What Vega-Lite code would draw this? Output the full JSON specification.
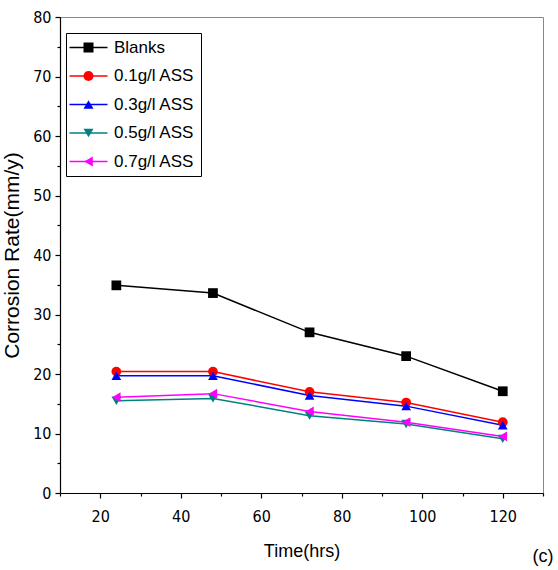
{
  "$schema": "https://vega.github.io/schema/vega-lite/v6.json",
  "width": 483,
  "height": 476,
  "autosize": {"type": "none"},
  "padding": {"left": 60, "top": 17, "right": 15, "bottom": 77},
  "background": "white",
  "config": {
    "view": {"stroke": "#888888", "strokeWidth": 1},
    "axis": {
      "grid": false,
      "domainColor": "black",
      "domainWidth": 1.2,
      "tickColor": "black",
      "tickWidth": 1.2,
      "labelColor": "black",
      "titleColor": "black",
      "labelFont": "Liberation Sans Narrow, DejaVu Sans Condensed, Liberation Sans",
      "labelFontSize": 16,
      "titleFont": "Liberation Sans",
      "titleFontWeight": "normal",
      "labelOverlap": false
    },
    "legend": {
      "labelFont": "Liberation Sans",
      "labelFontSize": 17,
      "labelColor": "black"
    }
  },
  "title": {
    "text": "(c)",
    "orient": "bottom",
    "anchor": "end",
    "font": "Liberation Sans",
    "fontSize": 18,
    "fontWeight": "normal",
    "color": "black",
    "offset": -12,
    "dx": 10
  },
  "data": {
    "values": [
      {"series": "Blanks", "time": 24, "rate": 34.9},
      {"series": "Blanks", "time": 48, "rate": 33.6},
      {"series": "Blanks", "time": 72, "rate": 27.0},
      {"series": "Blanks", "time": 96, "rate": 23.0},
      {"series": "Blanks", "time": 120, "rate": 17.1},
      {"series": "0.1g/l ASS", "time": 24, "rate": 20.4},
      {"series": "0.1g/l ASS", "time": 48, "rate": 20.4},
      {"series": "0.1g/l ASS", "time": 72, "rate": 17.0},
      {"series": "0.1g/l ASS", "time": 96, "rate": 15.2},
      {"series": "0.1g/l ASS", "time": 120, "rate": 11.9},
      {"series": "0.3g/l ASS", "time": 24, "rate": 19.7},
      {"series": "0.3g/l ASS", "time": 48, "rate": 19.7},
      {"series": "0.3g/l ASS", "time": 72, "rate": 16.4},
      {"series": "0.3g/l ASS", "time": 96, "rate": 14.6},
      {"series": "0.3g/l ASS", "time": 120, "rate": 11.4},
      {"series": "0.5g/l ASS", "time": 24, "rate": 15.5},
      {"series": "0.5g/l ASS", "time": 48, "rate": 15.9},
      {"series": "0.5g/l ASS", "time": 72, "rate": 13.0},
      {"series": "0.5g/l ASS", "time": 96, "rate": 11.6},
      {"series": "0.5g/l ASS", "time": 120, "rate": 9.1},
      {"series": "0.7g/l ASS", "time": 24, "rate": 16.1},
      {"series": "0.7g/l ASS", "time": 48, "rate": 16.7},
      {"series": "0.7g/l ASS", "time": 72, "rate": 13.7},
      {"series": "0.7g/l ASS", "time": 96, "rate": 11.9},
      {"series": "0.7g/l ASS", "time": 120, "rate": 9.5}
    ]
  },
  "encoding": {
    "x": {
      "field": "time",
      "type": "quantitative",
      "scale": {"domain": [10, 130], "nice": false, "zero": false},
      "axis": {
        "title": "Time(hrs)",
        "titleFontSize": 18,
        "titlePadding": 18,
        "values": [10, 20, 30, 40, 50, 60, 70, 80, 90, 100, 110, 120, 130],
        "labelExpr": "datum.value % 20 == 0 && datum.value >= 20 && datum.value <= 120 ? datum.label : ''",
        "tickSize": {"condition": {"test": "datum.value % 20 == 0", "value": 5}, "value": 3},
        "labelPadding": 10
      }
    },
    "y": {
      "field": "rate",
      "type": "quantitative",
      "scale": {"domain": [0, 80], "nice": false},
      "axis": {
        "title": "Corrosion Rate(mm/y)",
        "titleFontSize": 21,
        "titlePadding": 10,
        "values": [0, 5, 10, 15, 20, 25, 30, 35, 40, 45, 50, 55, 60, 65, 70, 75, 80],
        "labelExpr": "datum.value % 10 == 0 ? datum.label : ''",
        "tickSize": {"condition": {"test": "datum.value % 10 == 0", "value": 5}, "value": 3},
        "labelPadding": 4
      }
    }
  },
  "layer": [
    {
      "mark": {"type": "line", "strokeWidth": 1.5},
      "encoding": {
        "color": {
          "field": "series",
          "type": "nominal",
          "scale": {
            "domain": ["Blanks", "0.1g/l ASS", "0.3g/l ASS", "0.5g/l ASS", "0.7g/l ASS"],
            "range": ["#000000", "#FF0000", "#0000FF", "#008080", "#FF00FF"]
          },
          "legend": {
            "title": null,
            "orient": "none",
            "legendX": 6,
            "legendY": 16,
            "symbolType": "M-3.8,0H3.8",
            "symbolSize": 100,
            "symbolStrokeWidth": 1.5,
            "symbolOffset": 8,
            "labelOffset": 17,
            "rowPadding": 10.5,
            "padding": 6,
            "strokeColor": "black",
            "fillColor": "white"
          }
        }
      }
    },
    {
      "mark": {"type": "point", "filled": true, "opacity": 1, "size": 95},
      "encoding": {
        "color": {
          "field": "series",
          "type": "nominal",
          "legend": {
            "title": null,
            "orient": "none",
            "legendX": 6,
            "legendY": 16,
            "symbolSize": 100,
            "symbolOffset": 8,
            "labelOffset": 17,
            "rowPadding": 10.5,
            "padding": 6,
            "labelOpacity": 0
          }
        },
        "shape": {
          "field": "series",
          "type": "nominal",
          "scale": {
            "domain": ["Blanks", "0.1g/l ASS", "0.3g/l ASS", "0.5g/l ASS", "0.7g/l ASS"],
            "range": ["square", "circle", "triangle-up", "triangle-down", "triangle-left"]
          },
          "legend": {
            "title": null,
            "orient": "none",
            "legendX": 6,
            "legendY": 16,
            "symbolSize": 100,
            "symbolOffset": 8,
            "labelOffset": 17,
            "rowPadding": 10.5,
            "padding": 6,
            "labelOpacity": 0
          }
        }
      }
    }
  ],
  "resolve": {"legend": {"color": "independent", "shape": "independent"}}
}
